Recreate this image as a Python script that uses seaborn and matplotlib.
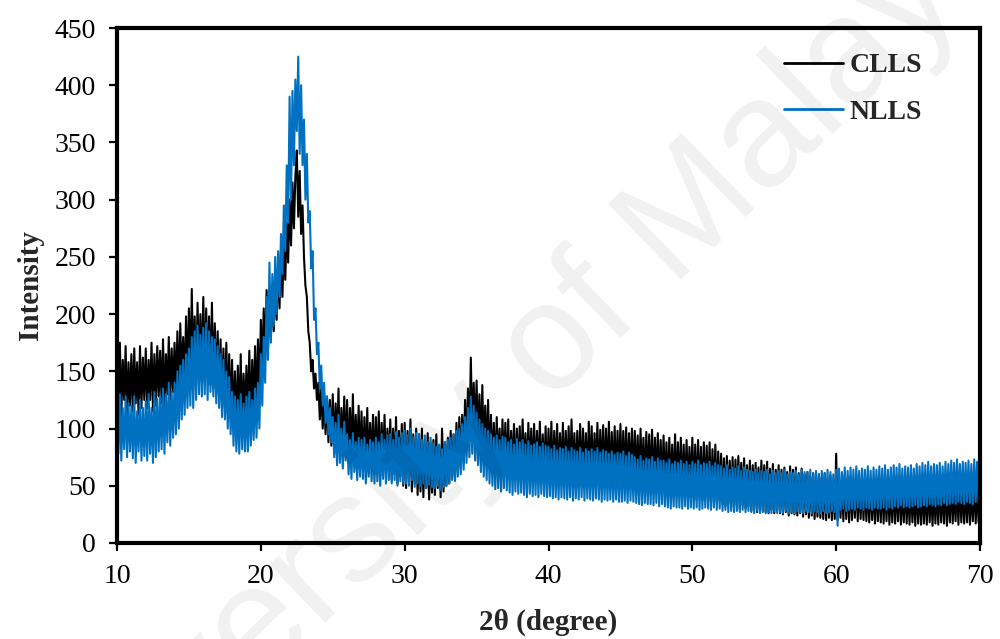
import numpy as np
import pandas as pd
import matplotlib
matplotlib.use("Agg")
import matplotlib.pyplot as plt
import seaborn as sns

# Intensities, 0.1 degree step from 10 to 70 (one row = one degree)
clls = [
    168, 118, 175, 112, 160, 125, 172, 110, 158, 120,   # 10
    165, 115, 170, 122, 158, 112, 172, 118, 162, 125,   # 11
    170, 118, 160, 125, 175, 115, 165, 120, 172, 128,   # 12
    168, 122, 178, 118, 165, 130, 180, 125, 170, 132,   # 13
    175, 130, 185, 128, 192, 138, 180, 135, 198, 140,   # 14
    205, 140, 222, 145, 198, 138, 210, 150, 200, 142,   # 15
    215, 140, 205, 148, 198, 138, 210, 135, 192, 130,   # 16
    185, 125, 178, 120, 170, 118, 175, 112, 165, 110,   # 17
    160, 105, 150, 98, 155, 102, 165, 100, 148, 108,    # 18
    155, 110, 168, 105, 160, 118, 172, 115, 178, 125,   # 19
    195, 150, 205, 160, 221, 170, 215, 180, 225, 185,   # 20
    235, 195, 245, 205, 255, 215, 262, 230, 280, 245,   # 21
    300, 260, 315, 275, 320, 343, 285, 325, 270, 295,   # 22
    250, 225, 215, 185, 175, 150, 160, 135, 148, 125,   # 23
    140, 108, 135, 100, 130, 95, 128, 88, 125, 85,      # 24
    130, 78, 122, 85, 135, 72, 118, 80, 128, 75,        # 25
    125, 70, 118, 75, 130, 68, 112, 72, 120, 66,        # 26
    115, 65, 110, 70, 118, 62, 105, 68, 112, 60,        # 27
    110, 62, 115, 58, 105, 66, 112, 60, 100, 64,        # 28
    108, 55, 100, 60, 110, 52, 98, 58, 104, 50,         # 29
    105, 48, 98, 55, 108, 45, 95, 52, 100, 42,          # 30
    95, 45, 100, 40, 90, 48, 96, 38, 88, 44,            # 31
    90, 42, 95, 48, 85, 40, 100, 45, 88, 50,            # 32
    92, 52, 98, 58, 95, 55, 105, 62, 110, 65,           # 33
    112, 70, 125, 80, 135, 90, 162, 95, 140, 92,        # 34
    142, 88, 130, 82, 138, 78, 120, 75, 125, 70,        # 35
    112, 65, 105, 62, 110, 68, 100, 60, 108, 64,        # 36
    105, 60, 108, 58, 98, 64, 104, 56, 100, 62,         # 37
    102, 58, 108, 62, 96, 55, 105, 60, 100, 56,         # 38
    104, 56, 98, 60, 106, 54, 95, 58, 102, 52,          # 39
    100, 56, 106, 52, 98, 60, 104, 55, 96, 58,          # 40
    105, 54, 98, 58, 102, 52, 108, 56, 96, 55,          # 41
    98, 56, 104, 52, 100, 58, 96, 54, 106, 57,          # 42
    102, 54, 96, 58, 105, 52, 99, 56, 103, 53,          # 43
    100, 55, 106, 52, 97, 57, 102, 54, 98, 56,          # 44
    104, 53, 98, 56, 101, 52, 96, 55, 100, 51,          # 45
    98, 52, 94, 50, 100, 54, 92, 49, 97, 52,            # 46
    95, 50, 99, 48, 92, 52, 96, 49, 90, 50,             # 47
    94, 46, 88, 44, 92, 48, 86, 43, 95, 46,             # 48
    88, 44, 92, 42, 86, 45, 90, 43, 84, 44,             # 49
    92, 40, 86, 38, 90, 42, 84, 37, 88, 40,             # 50
    85, 38, 88, 36, 82, 40, 86, 36, 80, 38,             # 51
    78, 34, 74, 32, 76, 35, 72, 31, 75, 33,             # 52
    73, 32, 76, 30, 70, 33, 74, 30, 68, 32,             # 53
    72, 28, 68, 30, 70, 27, 66, 29, 72, 28,             # 54
    68, 27, 71, 26, 65, 29, 69, 26, 64, 28,             # 55
    68, 26, 64, 25, 66, 27, 62, 24, 67, 26,             # 56
    64, 25, 66, 24, 61, 26, 65, 23, 60, 25,             # 57
    62, 22, 58, 24, 61, 21, 57, 23, 60, 22,             # 58
    58, 21, 61, 20, 56, 22, 59, 20, 55, 21,             # 59
    78, 20, 58, 22, 55, 19, 60, 21, 56, 18,             # 60
    58, 20, 55, 22, 60, 19, 54, 21, 57, 20,             # 61
    56, 19, 53, 18, 55, 20, 52, 17, 56, 19,             # 62
    54, 18, 56, 17, 52, 19, 55, 16, 51, 18,             # 63
    55, 17, 52, 19, 56, 16, 50, 18, 54, 17,             # 64
    52, 16, 55, 18, 50, 15, 54, 17, 51, 16,             # 65
    54, 17, 51, 16, 55, 18, 50, 15, 53, 17,             # 66
    52, 16, 54, 18, 50, 17, 55, 15, 51, 18,             # 67
    55, 17, 50, 19, 53, 16, 56, 18, 51, 17,             # 68
    52, 18, 55, 16, 50, 19, 54, 17, 52, 18,             # 69
    35,                                                 # 70
]

nlls = [
    125, 78, 130, 72, 118, 82, 128, 75, 122, 80,        # 10
    120, 74, 128, 70, 115, 80, 125, 72, 118, 76,        # 11
    124, 72, 130, 78, 118, 70, 132, 75, 126, 80,        # 12
    128, 82, 135, 78, 130, 88, 140, 85, 132, 92,        # 13
    140, 95, 150, 100, 155, 108, 160, 112, 165, 118,    # 14
    170, 120, 180, 118, 185, 125, 190, 130, 182, 128,   # 15
    188, 130, 192, 125, 185, 132, 180, 128, 178, 122,   # 16
    172, 118, 165, 110, 160, 108, 150, 100, 145, 95,    # 17
    132, 85, 128, 80, 125, 78, 130, 82, 122, 80,        # 18
    128, 80, 132, 85, 125, 90, 135, 92, 140, 100,       # 19
    165, 120, 180, 140, 215, 160, 245, 175, 235, 190,   # 20
    250, 200, 255, 215, 270, 235, 295, 255, 330, 280,   # 21
    390, 300, 395, 330, 405, 360, 425, 340, 400, 330,   # 22
    370, 300, 340, 280, 290, 240, 255, 195, 205, 165,   # 23
    175, 135, 155, 120, 140, 105, 128, 95, 118, 88,     # 24
    110, 75, 105, 68, 112, 70, 100, 65, 106, 72,        # 25
    95, 60, 90, 56, 96, 62, 88, 55, 92, 58,             # 26
    90, 56, 92, 52, 86, 58, 90, 54, 88, 52,             # 27
    92, 54, 88, 50, 95, 56, 90, 52, 94, 55,             # 28
    95, 52, 90, 55, 97, 50, 92, 54, 96, 52,             # 29
    98, 52, 94, 50, 100, 55, 92, 49, 96, 52,            # 30
    95, 50, 90, 52, 94, 48, 88, 51, 92, 49,             # 31
    87, 48, 84, 50, 86, 46, 82, 49, 88, 50,             # 32
    90, 52, 92, 55, 95, 54, 98, 58, 100, 60,            # 33
    104, 64, 110, 70, 118, 75, 128, 78, 120, 72,        # 34
    114, 68, 108, 62, 104, 58, 100, 55, 98, 52,         # 35
    95, 50, 92, 47, 94, 48, 90, 45, 93, 48,             # 36
    92, 46, 88, 44, 90, 42, 86, 45, 91, 43,             # 37
    88, 44, 90, 42, 86, 40, 89, 43, 85, 41,             # 38
    86, 42, 88, 40, 84, 43, 87, 41, 85, 40,             # 39
    84, 41, 82, 39, 85, 40, 81, 38, 83, 40,             # 40
    82, 39, 84, 38, 80, 40, 83, 37, 81, 39,             # 41
    80, 38, 83, 40, 79, 37, 82, 39, 80, 38,             # 42
    82, 37, 80, 39, 83, 38, 79, 36, 81, 38,             # 43
    80, 37, 78, 38, 80, 36, 77, 38, 79, 36,             # 44
    78, 36, 80, 37, 76, 35, 79, 37, 77, 36,             # 45
    75, 35, 73, 34, 76, 33, 72, 35, 74, 34,             # 46
    73, 34, 75, 33, 71, 35, 74, 32, 72, 34,             # 47
    72, 32, 70, 31, 73, 30, 69, 32, 71, 31,             # 48
    70, 31, 72, 30, 69, 32, 71, 30, 68, 31,             # 49
    71, 30, 69, 31, 72, 29, 68, 30, 70, 31,             # 50
    69, 30, 71, 29, 67, 31, 70, 29, 68, 30,             # 51
    67, 28, 65, 29, 68, 27, 64, 28, 66, 27,             # 52
    65, 28, 67, 27, 63, 29, 66, 27, 64, 28,             # 53
    63, 27, 62, 26, 64, 28, 61, 26, 63, 27,             # 54
    62, 26, 64, 27, 60, 26, 63, 28, 61, 26,             # 55
    63, 27, 61, 26, 64, 28, 60, 26, 62, 27,             # 56
    61, 26, 63, 28, 60, 27, 64, 26, 62, 28,             # 57
    62, 27, 64, 26, 61, 28, 63, 27, 60, 26,             # 58
    63, 28, 61, 26, 64, 27, 62, 28, 60, 27,             # 59
    64, 15, 65, 29, 62, 30, 66, 28, 63, 29,             # 60
    66, 30, 64, 29, 67, 31, 63, 30, 65, 29,             # 61
    64, 31, 67, 30, 63, 29, 66, 31, 64, 30,             # 62
    67, 30, 65, 31, 68, 29, 64, 31, 66, 30,             # 63
    68, 32, 66, 31, 69, 33, 65, 31, 67, 32,             # 64
    66, 31, 68, 32, 65, 33, 69, 31, 67, 32,             # 65
    70, 33, 68, 32, 71, 34, 67, 33, 69, 32,             # 66
    68, 34, 70, 33, 67, 35, 71, 33, 69, 34,             # 67
    72, 35, 70, 34, 73, 36, 69, 35, 71, 34,             # 68
    70, 36, 72, 35, 69, 34, 73, 36, 71, 35,             # 69
    94,                                                 # 70
]

two_theta = np.round(np.linspace(10, 70, 601), 2)   # scan positions, 0.1 degree step

series_names = ["CLLS", "NLLS"]
series_colors = ["#000000", "#0070C0"]
x_ticks = [10, 20, 30, 40, 50, 60, 70]
y_ticks = [0, 50, 100, 150, 200, 250, 300, 350, 400, 450]

sns.set_style("ticks")
plt.rcParams["font.family"] = ["Liberation Serif", "DejaVu Serif"]

fig = plt.figure(figsize=(10, 6.39), dpi=100)
ax = fig.add_axes([0.117, 1 - 543 / 639, 0.863, (543 - 28) / 639])

df = pd.DataFrame({"x": two_theta[:len(clls)], "CLLS": clls, "NLLS": nlls})
for name, col in zip(series_names, series_colors):
    sns.lineplot(data=df, x="x", y=name, color=col, lw=1.5, ax=ax,
                 label=name, estimator=None, sort=False)

ax.set_xlim(10, 70)
ax.set_ylim(0, 450)
ax.set_xticks(x_ticks)
ax.set_yticks(y_ticks)
ax.tick_params(axis="both", direction="out", length=6, width=1.6,
               labelsize=20, pad=9, colors="black")
for s in ax.spines.values():
    s.set_visible(True)
    s.set_linewidth(3.0)
    s.set_color("black")
    s.set_zorder(5)

ax.set_xlabel("2θ (degree)", fontsize=21, fontweight="bold", labelpad=14)
ax.set_ylabel("Intensity", fontsize=21, fontweight="bold", labelpad=8)

leg = ax.legend(loc="upper right", frameon=False,
                prop={"weight": "bold", "size": 20},
                handlelength=2.1, handletextpad=0.25, labelspacing=0.75,
                bbox_to_anchor=(0.962, 1.0))
for line in leg.get_lines():
    line.set_linewidth(2.0)

# faint watermark of the source
fig.text(532 / 1000, 1 - 423 / 639, "University of Malaya",
         family=["Liberation Sans", "DejaVu Sans"], fontsize=110,
         rotation=44, rotation_mode="anchor", ha="center", va="baseline",
         color="black", alpha=0.06, zorder=10)

fig.savefig("out.png", dpi=100)
